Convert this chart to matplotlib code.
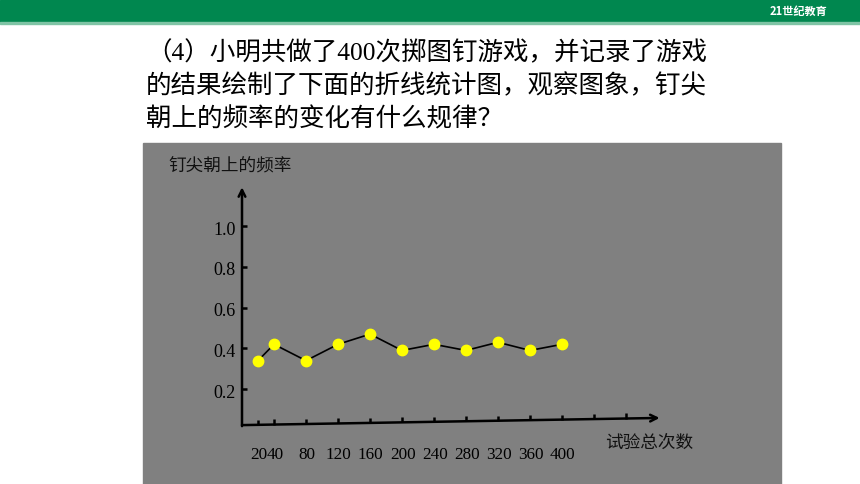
import matplotlib.pyplot as plt
from matplotlib.patches import Rectangle

# data
trials = [20, 40, 80, 120, 160, 200, 240, 280, 320, 360, 400]
freq = [0.34, 0.42, 0.34, 0.42, 0.47, 0.39, 0.42, 0.39, 0.43, 0.39, 0.42]
x_tick_labels = ["20", "40", "80", "120", "160", "200", "240", "280", "320", "360", "400"]
extra_ticks = [440, 480]
y_ticks = [0.2, 0.4, 0.6, 0.8, 1.0]
y_tick_labels = ["0.2", "0.4", "0.6", "0.8", "1.0"]

title_lines = [
    "（4）小明共做了400次掷图钉游戏，并记录了游戏",
    "的结果绘制了下面的折线统计图，观察图象，钉尖",
    "朝上的频率的变化有什么规律？",
]
ylabel = "钉尖朝上的频率"
xlabel = "试验总次数"

W, H = 860, 484
SERIF = ["Liberation Serif", "Noto Sans CJK SC"]
CJK = ["Noto Sans CJK SC", "DejaVu Sans"]

fig = plt.figure(figsize=(W / 100, H / 100), dpi=100)
fig.patch.set_facecolor("white")

# header band and grey panel (pixel -> figure fraction)
fig.patches.append(Rectangle((0, 1 - 22 / H), 1, 22 / H, transform=fig.transFigure,
                             color="#00874f", zorder=0))
fig.patches.append(Rectangle((0, 1 - 24 / H), 1, 2 / H, transform=fig.transFigure,
                             color="#7fc4a5", zorder=0))
fig.patches.append(Rectangle((143 / W, 0), (781 - 143) / W, (H - 143) / H,
                             transform=fig.transFigure, color="#808080", zorder=0))
fig.text(770 / W, 1 - 11 / H, "21世纪教育", color="white", fontsize=8,
         family=CJK, ha="left", va="center", fontweight="bold")

for i, line in enumerate(title_lines):
    fig.text(146 / W, 1 - (53 + 33 * i) / H, line, fontsize=18.4, family=SERIF,
             ha="left", va="center", color="black")

# axes spanning the figure; limits chosen so x=0 sits on the drawn y-axis
ax = fig.add_axes([0, 0, 1, 1])
ax.set_zorder(5)
ax.set_xlim(-242 / 0.8, (W - 242) / 0.8)
ax.set_ylim((430 - H) / 204, 430 / 204)
ax.axis("off")
ax.patch.set_alpha(0)

def axis_y(x):
    # hand-drawn x-axis rises slightly to the right
    return 0.024 + x * 0.035 / 520

# y axis
ax.annotate("", xy=(0, 1.19), xytext=(0, axis_y(0) - 0.005),
            arrowprops=dict(arrowstyle="->", color="black", lw=1.8,
                            mutation_scale=12, shrinkA=0, shrinkB=0))
# x axis
ax.annotate("", xy=(522, axis_y(522)), xytext=(0, axis_y(0)),
            arrowprops=dict(arrowstyle="->", color="black", lw=1.8,
                            mutation_scale=12, shrinkA=0, shrinkB=0))

for v, lab in zip(y_ticks, y_tick_labels):
    ax.plot([0, 6], [v, v], color="black", lw=1.8, solid_capstyle="butt")
    ax.text(-8, v - 0.02, lab, fontsize=13, family=SERIF, ha="right", va="center")

for x in trials + extra_ticks:
    y0 = axis_y(x)
    ax.plot([x, x], [y0, y0 + 0.025], color="black", lw=1.8, solid_capstyle="butt")

for x, lab in zip(trials, x_tick_labels):
    ax.text(x + 1, -0.122, lab, fontsize=12.3, family=SERIF, ha="center", va="center")

ax.plot(trials, freq, color="black", lw=1.2, zorder=3)
ax.plot(trials, freq, linestyle="none", marker="o", markersize=7.5,
        markerfacecolor="#ffff00", markeredgecolor="#ffff00", zorder=4)

ax.text(-92.5, 1.293, ylabel, fontsize=12.7, family=CJK, ha="left", va="center",
        color="#111111")
ax.text(454, -0.063, xlabel, fontsize=12.7, family=CJK, ha="left", va="center",
        color="#111111")

fig.savefig("out.png", dpi=100)
